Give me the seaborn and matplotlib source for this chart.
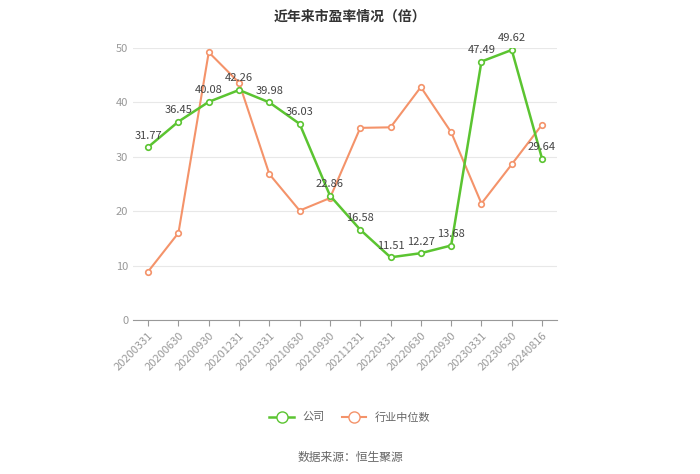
import matplotlib
matplotlib.use("Agg")
import matplotlib.pyplot as plt
import seaborn as sns
import pandas as pd
from matplotlib.lines import Line2D

dates = ["20200331","20200630","20200930","20201231","20210331","20210630","20210930",
         "20211231","20220331","20220630","20220930","20230331","20230630","20240816"]
company = [31.77,36.45,40.08,42.26,39.98,36.03,22.86,16.58,11.51,12.27,13.68,47.49,49.62,29.64]
industry = [8.9,16.0,49.2,43.6,26.8,20.1,22.4,35.3,35.4,42.8,34.5,21.4,28.6,35.9]

plt.rcParams["font.family"] = "Noto Sans CJK SC"
df = pd.DataFrame({"x": range(len(dates)), "公司": company, "行业中位数": industry})

fig = plt.figure(figsize=(7, 4.74), dpi=100)
ax = fig.add_axes([0.19, 0.325, 0.606, 0.574])
green, orange = "#5bc431", "#f4936a"
sns.lineplot(data=df, x="x", y="行业中位数", ax=ax, color=orange, lw=1.5,
             marker="o", markersize=4, markerfacecolor="white", markeredgecolor=orange, markeredgewidth=1.2)
sns.lineplot(data=df, x="x", y="公司", ax=ax, color=green, lw=1.8,
             marker="o", markersize=4, markerfacecolor="white", markeredgecolor=green, markeredgewidth=1.2)
for i, v in enumerate(company):
    ax.text(i, v + 1.2, f"{v:.2f}", ha="center", va="bottom", fontsize=8, color="#444444")

ax.set_xlim(-0.5, len(dates) - 0.5)
ax.set_ylim(0, 50)
ax.set_yticks(range(0, 51, 10))
ax.set_xticks(range(len(dates)))
ax.set_xticklabels(dates, rotation=45, ha="right", rotation_mode="anchor", fontsize=8, color="#999999")
ax.tick_params(axis="y", labelsize=8, labelcolor="#999999", length=0)
ax.tick_params(axis="x", length=4, color="#999999")
ax.grid(axis="y", color="#e8e8e8", lw=0.8)
ax.set_axisbelow(True)
for s in ["top", "right", "left"]:
    ax.spines[s].set_visible(False)
ax.spines["bottom"].set_color("#999999")
ax.set_xlabel(""); ax.set_ylabel("")

fig.text(0.5, 0.965, "近年来市盈率情况（倍）", ha="center", va="center", fontsize=10, fontweight="bold", color="#333333")
handles = [Line2D([], [], color=green, lw=1.8, marker="o", markersize=8, markerfacecolor="white"),
           Line2D([], [], color=orange, lw=1.5, marker="o", markersize=8, markerfacecolor="white")]
fig.legend(handles, ["公司", "行业中位数"], loc="center", bbox_to_anchor=(0.5, 0.12), ncol=2,
           frameon=False, fontsize=8, labelcolor="#666666", handlelength=2.2, columnspacing=1.5)
fig.text(0.5, 0.035, "数据来源：恒生聚源", ha="center", va="center", fontsize=8.5, color="#666666")
fig.savefig("out.png", dpi=100)
